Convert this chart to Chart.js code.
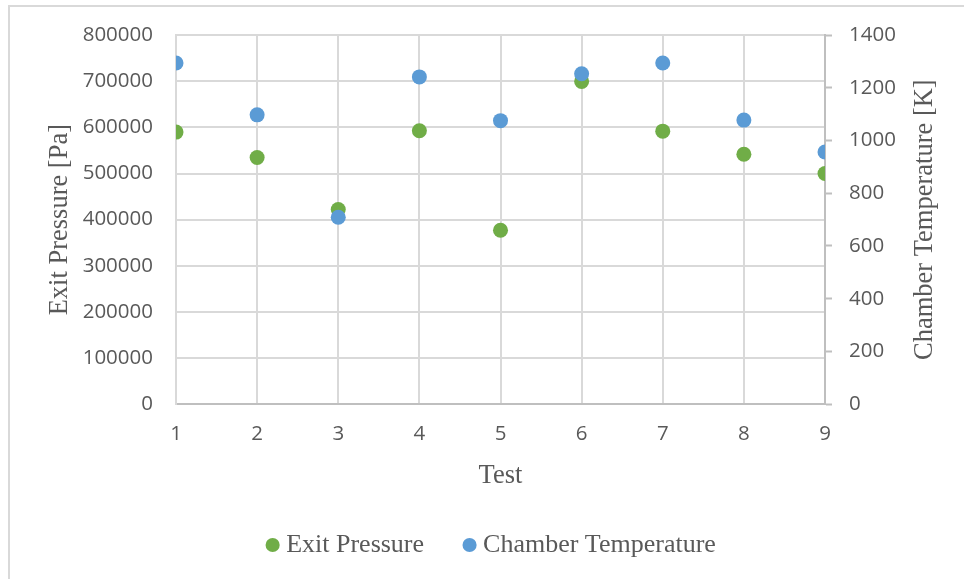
<!DOCTYPE html>
<html>
<head>
<meta charset="utf-8">
<script src="https://cdn.jsdelivr.net/npm/chart.js@4/dist/chart.umd.min.js"></script>
<style>
  html, body { margin: 0; padding: 0; background: #ffffff; }
  #wrap { width: 964px; height: 579px; }
</style>
</head>
<body>
<div id="wrap"><canvas id="c" width="964" height="579"></canvas></div>
<script>
// Test runs and measured values
const tests = [1, 2, 3, 4, 5, 6, 7, 8, 9];
const exitPressure = [590000, 535000, 422000, 593000, 377000, 700000, 592000, 542000, 500000];
const chamberTemperature = [1295, 1098, 709, 1242, 1076, 1254, 1295, 1078, 957];

const pressureTicks = { min: 0, max: 800000, step: 100000 };
const temperatureTicks = { min: 0, max: 1400, step: 200 };
const testTicks = { min: 1, max: 9, step: 1 };

const GREEN = '#70AD47';
const BLUE = '#5B9BD5';
const TEXT = '#595959';
const GRID = '#d9d9d9';
const AXIS = '#bfbfbf';
const tickFont = { family: '"Open Sans", sans-serif', size: 20.5 };
const titleFont = { family: '"Liberation Serif", "Times New Roman", serif', size: 26.5 };
const legendFont = { family: '"Liberation Serif", "Times New Roman", serif', size: 26 };
const PLOT_BOTTOM = 404;
const BOTTOM_PAD = 11;
const X_TITLE_Y = 476;
const plain = v => String(v);

const toPoints = (xs, ys) => xs.map((x, i) => ({ x: x, y: ys[i] }));

// Light frame around the chart and the right-hand axis title (reads bottom to top)
const decorations = {
  id: 'decorations',
  beforeDraw(chart) {
    const ctx = chart.ctx;
    ctx.save();
    ctx.fillStyle = '#ffffff';
    ctx.fillRect(0, 0, chart.width, chart.height);
    ctx.strokeStyle = GRID;
    ctx.lineWidth = 2;
    ctx.strokeRect(9, 6, chart.width + 20, chart.height + 20);
    ctx.restore();
  },
  afterDraw(chart) {
    const s = chart.scales.y2;
    const ctx = chart.ctx;
    ctx.save();
    ctx.translate(s.right - 16, (s.top + s.bottom) / 2);
    ctx.rotate(-Math.PI / 2);
    ctx.font = titleFont.size + 'px ' + titleFont.family;
    ctx.fillStyle = TEXT;
    ctx.textAlign = 'center';
    ctx.textBaseline = 'middle';
    ctx.fillText('Chamber Temperature [K]', 0, 0);
    ctx.restore();
  }
};

new Chart(document.getElementById('c'), {
  type: 'scatter',
  data: {
    datasets: [
      {
        label: 'Exit Pressure',
        data: toPoints(tests, exitPressure),
        yAxisID: 'y',
        backgroundColor: GREEN,
        borderColor: GREEN,
        borderWidth: 0,
        pointRadius: 7.5,
        pointHoverRadius: 7.5,
        order: 1
      },
      {
        label: 'Chamber Temperature',
        data: toPoints(tests, chamberTemperature),
        yAxisID: 'y2',
        backgroundColor: BLUE,
        borderColor: BLUE,
        borderWidth: 0,
        pointRadius: 7.5,
        pointHoverRadius: 7.5,
        order: 0
      }
    ]
  },
  options: {
    responsive: false,
    animation: false,
    layout: { padding: { left: 47, right: 23, top: 34, bottom: BOTTOM_PAD } },
    plugins: {
      tooltip: { enabled: false },
      legend: {
        position: 'bottom',
        labels: {
          usePointStyle: true,
          pointStyle: 'circle',
          boxWidth: 1,
          boxHeight: 10,
          padding: 45,
          color: TEXT,
          font: legendFont,
          sort: (a, b) => a.datasetIndex - b.datasetIndex
        }
      }
    },
    scales: {
      x: {
        type: 'linear',
        position: 'bottom',
        min: testTicks.min,
        max: testTicks.max,
        ticks: { stepSize: testTicks.step, color: TEXT, font: tickFont, padding: 18, callback: plain },
        grid: { color: GRID, drawTicks: false, lineWidth: 2 },
        border: { color: AXIS, width: 2 },
        title: { display: true, text: 'Test', color: TEXT, font: titleFont, padding: { top: 0, bottom: 0 } },
        afterFit(s) {
          const legendH = s.chart.legend ? s.chart.legend.height : 0;
          s.height = s.chart.height - BOTTOM_PAD - legendH - PLOT_BOTTOM;
          s.options.title.padding.bottom = (s.chart.height - BOTTOM_PAD - legendH) - X_TITLE_Y - titleFont.size * 0.6;
        }
      },
      y: {
        type: 'linear',
        position: 'left',
        min: pressureTicks.min,
        max: pressureTicks.max,
        ticks: { stepSize: pressureTicks.step, color: TEXT, font: tickFont, padding: 23, callback: plain },
        grid: { color: GRID, drawTicks: false, lineWidth: 2 },
        border: { color: GRID, width: 2 },
        title: { display: true, text: 'Exit Pressure [Pa]', color: TEXT, font: titleFont, padding: { top: -3, bottom: 0 } },
        afterFit(s) { s.width = 129; }
      },
      y2: {
        type: 'linear',
        position: 'right',
        min: temperatureTicks.min,
        max: temperatureTicks.max,
        ticks: { stepSize: temperatureTicks.step, color: TEXT, font: tickFont, padding: 17, callback: plain },
        grid: { drawOnChartArea: false, drawTicks: true, tickLength: 7, tickColor: AXIS, tickWidth: 2 },
        border: { color: AXIS, width: 2 },
        afterFit(s) { s.width = 116; }
      }
    }
  },
  plugins: [decorations]
});
</script>
</body>
</html>
